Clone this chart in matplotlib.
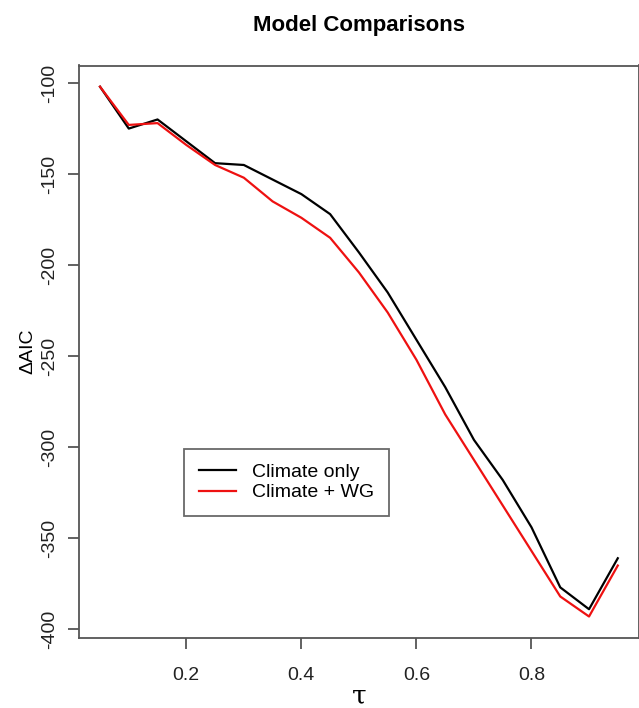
import matplotlib
matplotlib.use("Agg")
import matplotlib.pyplot as plt
import numpy as np

tau = [0.05, 0.10, 0.15, 0.20, 0.25, 0.30, 0.35, 0.40, 0.45, 0.50,
       0.55, 0.60, 0.65, 0.70, 0.75, 0.80, 0.85, 0.90, 0.95]
climate_only = [-102, -125, -120, -132, -144, -145, -153, -161, -172, -193,
                -215, -241, -267, -296, -318, -344, -377, -389, -361]
climate_wg = [-102, -123, -122, -134, -145, -152, -165, -174, -185, -204,
              -226, -252, -282, -307, -332, -357, -382, -393, -365]
y_ticks = [-100, -150, -200, -250, -300, -350, -400]
x_ticks = [0.2, 0.4, 0.6, 0.8]

plt.rcParams['font.family'] = ['Liberation Sans', 'DejaVu Sans']

W, H = 639, 708
fig = plt.figure(figsize=(W / 100, H / 100), dpi=100)
left, right, top, bottom = 79.3, 638.5, 65.5, 637.7
ax = fig.add_axes([left / W, (H - bottom) / H, (right - left) / W, (bottom - top) / H])

ax.plot(tau, climate_only, color='black', lw=1.6, label='Climate only')
ax.plot(tau, climate_wg, color='#ee1111', lw=1.6, label='Climate + WG')

# R style 4% padding
xr = max(tau) - min(tau)
ax.set_xlim(min(tau) - 0.04 * xr, max(tau) + 0.04 * xr)
ymin = min(climate_only + climate_wg)
ymax = max(climate_only + climate_wg)
yr = ymax - ymin
ax.set_ylim(ymin - 0.04 * yr, ymax + 0.04 * yr)

ax.set_xticks(x_ticks)
ax.set_xticklabels([f'{v:.1f}' for v in x_ticks])
ax.set_yticks(y_ticks)
ax.set_yticklabels([str(v) for v in y_ticks], rotation=90, va='center')

for s in ax.spines.values():
    s.set_color('#555555')
    s.set_linewidth(1.3)
ax.tick_params(axis='both', length=8, width=1.3, color='#555555',
               labelsize=14, labelcolor='#222222')
ax.tick_params(axis='x', pad=13)
ax.tick_params(axis='y', pad=7)

ax.set_title('Model Comparisons', fontsize=16, fontweight='bold', pad=25)
ax.set_ylabel('\u0394AIC', fontsize=14, labelpad=4)
ax.set_xlabel('\u03c4', fontsize=19, family=['DejaVu Serif'], labelpad=0)

leg = ax.legend(loc='center', bbox_to_anchor=(0.371, 0.2716), fontsize=14,
                frameon=True, fancybox=False, edgecolor='#444444',
                handlelength=1.9, handletextpad=0.85, labelspacing=0.15,
                borderpad=0.75)
leg.get_frame().set_linewidth(1.3)

fig.savefig('out.png', dpi=100)
